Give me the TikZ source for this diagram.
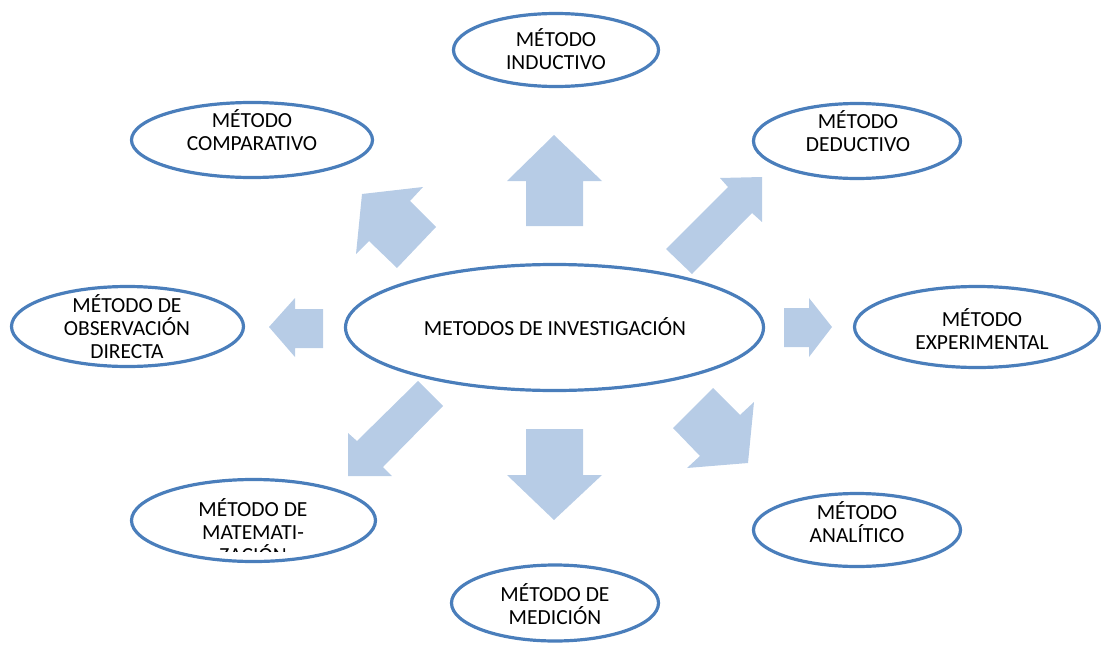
\documentclass[tikz,border=0pt]{standalone}
\usepackage{fontspec}
\setmainfont{Carlito}
\usetikzlibrary{shapes.geometric}
\definecolor{ln}{RGB}{74,126,187}
\definecolor{ar}{RGB}{183,204,230}
\begin{document}
\begin{tikzpicture}[x=1pt,y=-1pt,
  oval/.style={ellipse,draw=ln,line width=3.2pt,inner sep=0pt},
  lbl/.style={align=center,font=\fontsize{21.5}{23}\selectfont,inner sep=0pt,text=black},
  blk/.style={fill=ar,draw=none}]
\useasboundingbox (0,0) rectangle (1101,645);

% block arrows
\fill[blk] (526,226) -- (526,181) -- (507,181) -- (554,135) -- (602,181) -- (583,181) -- (583,226) -- cycle;
\fill[blk] (526,429) -- (583,429) -- (583,475) -- (602,475) -- (554,520) -- (507,475) -- (526,475) -- cycle;
\fill[blk] (323,309) -- (295,309) -- (295,298) -- (269,327) -- (295,357) -- (295,348) -- (323,348) -- cycle;
\fill[blk] (784,308) -- (809,308) -- (809,298) -- (832,327) -- (809,357) -- (809,347) -- (784,347) -- cycle;
\fill[blk] (362,194) -- (423,187) -- (410,201) -- (436,227) -- (397,268) -- (369,241) -- (356,254) -- cycle;
\fill[blk] (762,177) -- (762,222) -- (752,213) -- (692,274) -- (666,249) -- (728,187) -- (720,178) -- cycle;
\fill[blk] (418,381) -- (443,406) -- (383,467) -- (392,476) -- (348,476) -- (348,433) -- (357,441) -- cycle;
\fill[blk] (713,388) -- (740,415) -- (754,402) -- (748,463) -- (687,468) -- (700,456) -- (673,428) -- cycle;

% ellipses
\node[oval,minimum width=205pt,minimum height=73pt] (ind) at (556,50) {};
\node[oval,minimum width=241pt,minimum height=75pt] (cmp) at (252,140) {};
\node[oval,minimum width=207pt,minimum height=75pt] (ded) at (857,141) {};
\node[oval,minimum width=232pt,minimum height=80pt] (obs) at (127.5,326.5) {};
\node[oval,minimum width=418pt,minimum height=126pt] (cen) at (554.5,327.5) {};
\node[oval,minimum width=245pt,minimum height=81pt] (exp) at (977,327) {};
\node[oval,minimum width=244pt,minimum height=82pt] (mat) at (253.5,520.5) {};
\node[oval,minimum width=207pt,minimum height=73pt] (ana) at (857,530) {};
\node[oval,minimum width=207pt,minimum height=76pt] (med) at (555,603) {};

% labels
\node[lbl] (tind) at (556,49) {MÉTODO\\INDUCTIVO};
\node[lbl] (tcmp) at (252,130) {MÉTODO\\COMPARATIVO};
\node[lbl] (tded) at (858,131) {MÉTODO\\DEDUCTIVO};
\node[lbl] (tobs) at (127,327) {MÉTODO DE\\OBSERVACIÓN\\DIRECTA};
\node[lbl] (tcen) at (555,327) {METODOS DE INVESTIGACIÓN};
\node[lbl] (texp) at (982,329) {MÉTODO\\EXPERIMENTAL};
\node[lbl] (tana) at (857,522) {MÉTODO\\ANALÍTICO};
\node[lbl] (tmed) at (555,604) {MÉTODO DE\\MEDICIÓN};
\begin{scope}
  \clip (100,470) rectangle (400,551);
  \node[lbl] (tmat) at (253,531) {MÉTODO DE\\MATEMATI-\\ZACIÓN};
\end{scope}
\end{tikzpicture}
\end{document}
